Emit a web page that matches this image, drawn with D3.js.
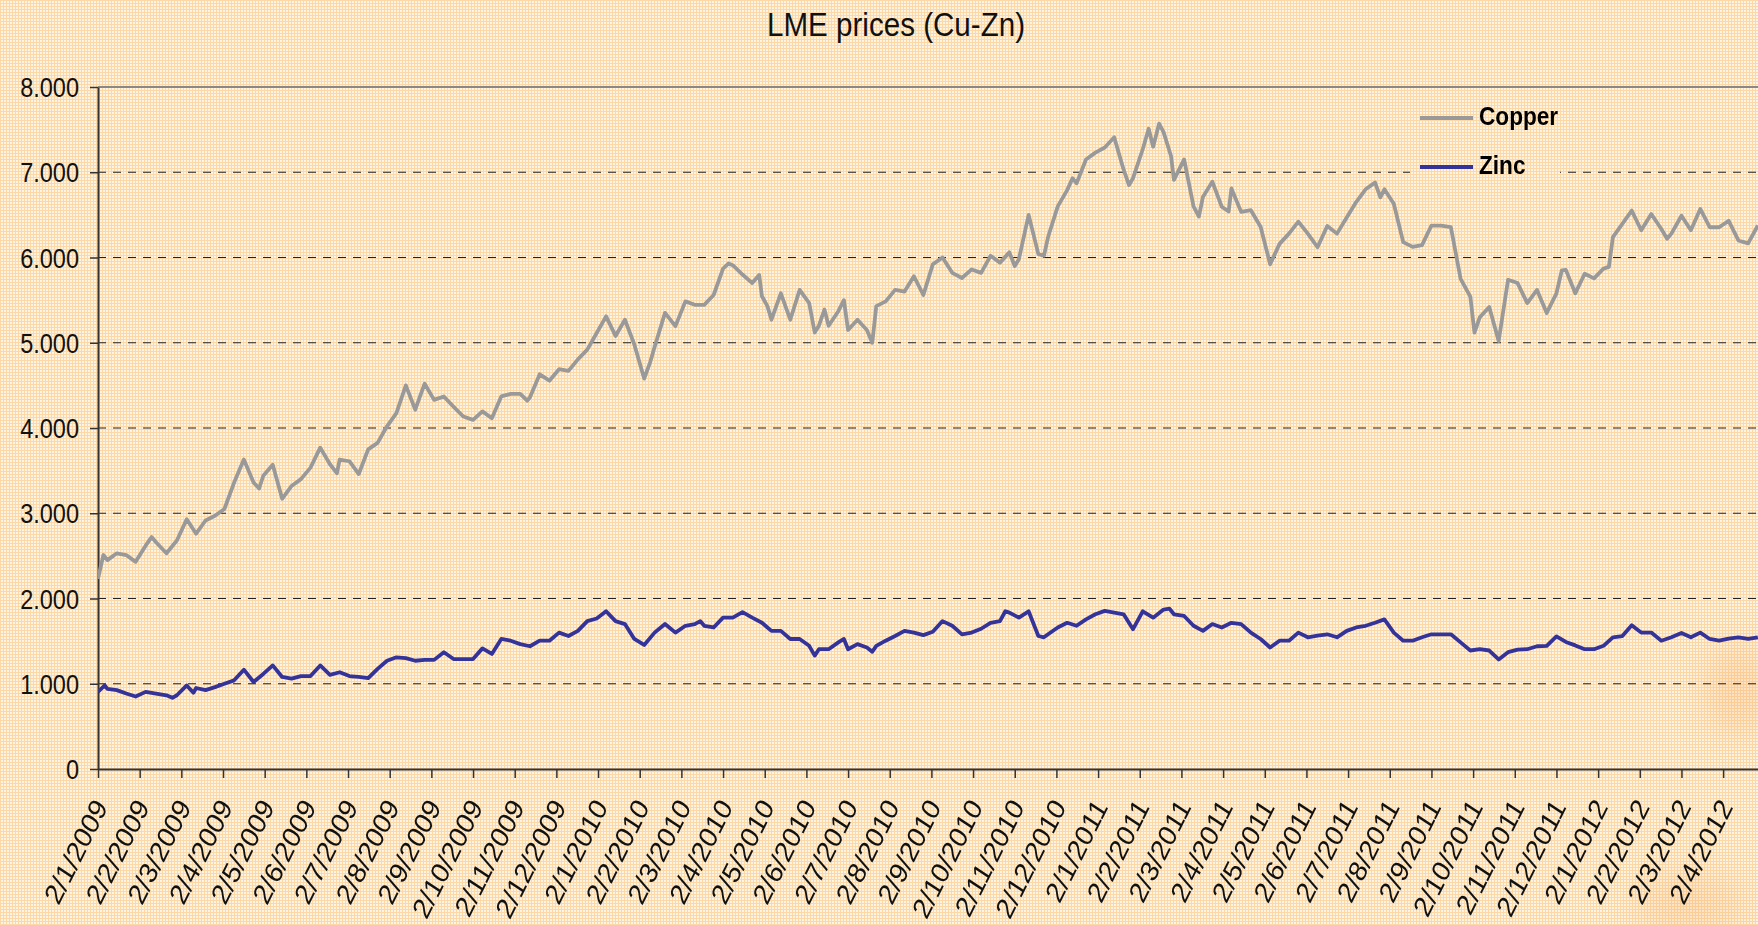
<!DOCTYPE html>
<html lang="en">
<head>
<meta charset="UTF-8">
<title>LME prices (Cu-Zn)</title>
<script src="https://cdn.jsdelivr.net/npm/d3@7"></script>
<style>
  html, body { margin: 0; padding: 0; background: #fde6c3; overflow: hidden; }
  svg { display: block; font-family: "Liberation Sans", Arial, sans-serif; }
</style>
</head>
<body>
<svg width="1758" height="925"></svg>
<script>
// weekly closing dates (Fridays)
const weeks = [
  "2009-01-02","2009-01-09","2009-01-16","2009-01-23","2009-01-30","2009-02-06","2009-02-13","2009-02-20","2009-02-27",
  "2009-03-06","2009-03-13","2009-03-20","2009-03-27","2009-04-03","2009-04-10","2009-04-17","2009-04-24",
  "2009-05-01","2009-05-08","2009-05-15","2009-05-22","2009-05-29","2009-06-05","2009-06-12","2009-06-19","2009-06-26",
  "2009-07-03","2009-07-10","2009-07-17","2009-07-24","2009-07-31","2009-08-07","2009-08-14","2009-08-21","2009-08-28",
  "2009-09-04","2009-09-11","2009-09-18","2009-09-25","2009-10-02","2009-10-09","2009-10-16","2009-10-23","2009-10-30",
  "2009-11-06","2009-11-13","2009-11-20","2009-11-27","2009-12-04","2009-12-11","2009-12-18","2009-12-25",
  "2010-01-01","2010-01-08","2010-01-15","2010-01-22","2010-01-29","2010-02-05","2010-02-12","2010-02-19","2010-02-26",
  "2010-03-05","2010-03-12","2010-03-19","2010-03-26","2010-04-02","2010-04-09","2010-04-16","2010-04-23","2010-04-30",
  "2010-05-07","2010-05-14","2010-05-21","2010-05-28","2010-06-04","2010-06-11","2010-06-18","2010-06-25",
  "2010-07-02","2010-07-09","2010-07-16","2010-07-23","2010-07-30","2010-08-06","2010-08-13","2010-08-20","2010-08-27",
  "2010-09-03","2010-09-10","2010-09-17","2010-09-24","2010-10-01","2010-10-08","2010-10-15","2010-10-22","2010-10-29",
  "2010-11-05","2010-11-12","2010-11-19","2010-11-26","2010-12-03","2010-12-10","2010-12-17","2010-12-24","2010-12-31",
  "2011-01-07","2011-01-14","2011-01-21","2011-01-28","2011-02-04","2011-02-11","2011-02-18","2011-02-25",
  "2011-03-04","2011-03-11","2011-03-18","2011-03-25","2011-04-01","2011-04-08","2011-04-15","2011-04-22","2011-04-29",
  "2011-05-06","2011-05-13","2011-05-20","2011-05-27","2011-06-03","2011-06-10","2011-06-17","2011-06-24",
  "2011-07-01","2011-07-08","2011-07-15","2011-07-22","2011-07-29","2011-08-05","2011-08-12","2011-08-19","2011-08-26",
  "2011-09-02","2011-09-09","2011-09-16","2011-09-23","2011-09-30","2011-10-07","2011-10-14","2011-10-21","2011-10-28",
  "2011-11-04","2011-11-11","2011-11-18","2011-11-25","2011-12-02","2011-12-09","2011-12-16","2011-12-23","2011-12-30",
  "2012-01-06","2012-01-13","2012-01-20","2012-01-27","2012-02-03","2012-02-10","2012-02-17","2012-02-24",
  "2012-03-02","2012-03-09","2012-03-16","2012-03-23","2012-03-30","2012-04-06","2012-04-13","2012-04-20","2012-04-27"
];

const copper = [
  2230,2450,2530,2510,2430,2620,2660,2530,2680,2930,2760,2915,2970,3050,3360,3630,3360,3440,3570,3170,
  3320,3400,3535,3770,3575,3630,3610,3460,3750,3825,4020,4175,4500,4215,4520,4330,4370,4250,4135,4095,
  4195,4115,4370,4400,4400,4360,4630,4555,4690,4670,4805,4920,5115,5310,5080,5270,4980,4580,4950,5350,
  5195,5485,5445,5445,5560,5870,5910,5800,5700,5545,5270,5580,5270,5620,5465,5200,5200,5370,5150,5270,
  5150,5430,5485,5620,5600,5780,5560,5920,6000,5820,5760,5860,5820,6020,5940,6060,5980,6500,6040,6240,
  6600,6790,6870,7150,7230,7290,7410,7030,6930,7270,7300,7470,6910,7150,6600,6710,6890,6595,6810,6535,
  6555,6360,5920,6160,6280,6420,6280,6120,6370,6280,6470,6650,6800,6880,6800,6630,6180,6125,6145,6375,
  6375,6355,5750,5540,5300,5420,5020,5740,5700,5465,5620,5350,5580,5855,5580,5810,5755,5870,6240,6395,
  6550,6320,6510,6335,6280,6490,6320,6570,6355,6355,6430,6200,6165,6375
];

const zinc = [
  905,940,925,885,850,905,885,865,865,980,950,925,960,1000,1040,1165,1020,1115,1215,1080,
  1060,1090,1090,1215,1105,1135,1090,1080,1065,1175,1270,1310,1300,1270,1280,1280,1370,1290,1290,1290,
  1415,1350,1525,1505,1465,1440,1505,1505,1600,1560,1620,1735,1765,1850,1735,1700,1525,1455,1600,1700,
  1600,1680,1700,1680,1660,1775,1775,1840,1775,1715,1620,1620,1525,1525,1445,1405,1405,1485,1405,1465,
  1425,1445,1505,1560,1620,1600,1570,1610,1735,1680,1580,1600,1645,1715,1735,1835,1775,1850,1560,1580,
  1660,1715,1680,1755,1815,1855,1835,1815,1640,1850,1775,1870,1815,1795,1680,1620,1700,1660,1715,1700,
  1600,1525,1425,1505,1505,1600,1545,1565,1580,1545,1620,1660,1680,1715,1755,1600,1505,1505,1545,1580,
  1580,1580,1485,1390,1405,1390,1285,1370,1400,1405,1440,1445,1555,1490,1450,1405,1405,1445,1545,1560,
  1685,1600,1600,1505,1545,1595,1545,1600,1525,1505,1530,1545,1525,1545
];

// mid-week highs and lows that the weekly closes miss
const copperExtraDates = [
  "2009-01-06","2009-02-10","2009-04-28","2009-06-24","2009-11-11","2010-02-09","2010-04-06","2010-04-28",
  "2010-05-04","2010-06-08","2010-06-15","2010-06-29","2010-07-20","2010-11-02","2010-11-23","2010-12-14",
  "2011-01-25","2011-02-08","2011-02-15","2011-02-23","2011-03-15","2011-04-06","2011-07-26","2011-10-03",
  "2011-12-06","2012-01-10","2012-02-21"
];
const copperExtra = [
  2510,2720,3290,3470,4320,4770,5930,5795,
  5430,5120,5390,5500,5000,5900,6020,6930,
  6850,7510,7570,7190,6480,6540,6705,5120,
  5850,5890,6220
];
const zincExtraDates = [
  "2009-01-07","2009-02-24","2009-03-11","2010-03-16","2010-06-08","2010-06-29","2010-07-20","2010-10-26",
  "2010-11-23","2011-02-22"
];
const zincExtra = [980,835,895,1735,1330,1525,1375,1850,1545,1880];

const seriesNames = ["Copper", "Zinc"];
const seriesColors = ["#999999", "#333399"];

// monthly axis ticks, plus the date where the axis runs on to
const tickDates = [
  "2009-01-02","2009-02-02","2009-03-02","2009-04-02","2009-05-02","2009-06-02","2009-07-02","2009-08-02",
  "2009-09-02","2009-10-02","2009-11-02","2009-12-02","2010-01-02","2010-02-02","2010-03-02","2010-04-02",
  "2010-05-02","2010-06-02","2010-07-02","2010-08-02","2010-09-02","2010-10-02","2010-11-02","2010-12-02",
  "2011-01-02","2011-02-02","2011-03-02","2011-04-02","2011-05-02","2011-06-02","2011-07-02","2011-08-02",
  "2011-09-02","2011-10-02","2011-11-02","2011-12-02","2012-01-02","2012-02-02","2012-03-02","2012-04-02"
];
const axisEnd = "2012-05-02";
const yTicks = [0, 1000, 2000, 3000, 4000, 5000, 6000, 7000, 8000];

const W = 1758, H = 925;
const plotLeft = 98, plotTop = 87, plotBottom = 769;
const monthStep = 41.67;
const squeeze = 0.87;   // text in the original is a bit narrow

const parse = d3.timeParse('%Y-%m-%d');
const axisDates = tickDates.concat([axisEnd]).map(parse);

// every month gets the same width, like the original
const x = d3.scaleTime()
  .domain(axisDates)
  .range(axisDates.map((d, i) => plotLeft + i * monthStep));
const y = d3.scaleLinear().domain([0, 8000]).range([plotBottom, plotTop]);

const fmt = d3.formatLocale({decimal: ',', thousands: '.', grouping: [3], currency: ['', '']}).format(',');
const dateFmt = d3.timeFormat('%-d/%-m/%Y');

const svg = d3.select('svg');
const defs = svg.append('defs');

// fine orange check background
const pat = defs.append('pattern')
  .attr('id', 'bg').attr('width', 3).attr('height', 3)
  .attr('patternUnits', 'userSpaceOnUse');
pat.append('rect').attr('width', 3).attr('height', 3).attr('fill', '#fff4e4');
pat.append('rect').attr('width', 3).attr('height', 1).attr('fill', '#fbd8a6');
pat.append('rect').attr('width', 1).attr('height', 3).attr('fill', '#fbd8a6');

const blur = defs.append('filter').attr('id', 'soft').attr('x', '-50%').attr('y', '-50%').attr('width', '200%').attr('height', '200%');
blur.append('feGaussianBlur').attr('stdDeviation', 18);

svg.append('rect').attr('width', W).attr('height', H).attr('fill', 'url(#bg)');

// faint orange smudges in the lower right corner
const smudge = svg.append('g').attr('filter', 'url(#soft)').attr('fill', '#f7a860');
smudge.append('ellipse').attr('cx', 1738).attr('cy', 690).attr('rx', 30).attr('ry', 45).attr('opacity', 0.3);
smudge.append('ellipse').attr('cx', 1690).attr('cy', 905).attr('rx', 55).attr('ry', 30).attr('opacity', 0.25);

// title
svg.append('text')
  .attr('transform', `translate(896,36) scale(${squeeze},1)`)
  .attr('text-anchor', 'middle')
  .attr('font-size', 34)
  .attr('fill', '#111')
  .text('LME prices (Cu-Zn)');

// dashed gridlines
svg.append('g')
  .selectAll('line')
  .data(yTicks.filter(v => v > 0 && v < 8000))
  .join('line')
  .attr('x1', plotLeft).attr('x2', W)
  .attr('y1', d => y(d)).attr('y2', d => y(d))
  .attr('stroke', '#222').attr('stroke-width', 1.2)
  .attr('stroke-dasharray', '8,7');

// top border of the plot
svg.append('line')
  .attr('x1', plotLeft).attr('x2', W)
  .attr('y1', y(8000)).attr('y2', y(8000))
  .attr('stroke', '#888').attr('stroke-width', 2.2);

// y axis
const yAxis = svg.append('g')
  .attr('transform', `translate(${plotLeft},0)`)
  .call(d3.axisLeft(y).tickValues(yTicks).tickSize(8).tickSizeOuter(0).tickFormat(fmt));
yAxis.select('.domain').attr('stroke', '#333').attr('stroke-width', 2);
yAxis.selectAll('.tick line').attr('stroke', '#333').attr('stroke-width', 1.5);
yAxis.selectAll('.tick text')
  .attr('x', 0).attr('dy', '0.36em')
  .attr('transform', `translate(-19,0) scale(${squeeze},1)`)
  .attr('font-family', '"Liberation Sans", Arial, sans-serif')
  .attr('font-size', 27).attr('fill', '#111');

// x axis
const xAxis = svg.append('g')
  .attr('transform', `translate(0,${plotBottom})`)
  .call(d3.axisBottom(x).tickValues(tickDates.map(parse)).tickSize(9).tickSizeOuter(0).tickFormat(dateFmt));
xAxis.select('.domain').attr('stroke', '#333').attr('stroke-width', 2);
xAxis.selectAll('.tick line').attr('stroke', '#333').attr('stroke-width', 1.5);
xAxis.selectAll('.tick text')
  .attr('x', 0).attr('y', 0).attr('dy', 0)
  .attr('text-anchor', 'end')
  .attr('transform', `translate(10,38) scale(${squeeze},1) rotate(-60)`)
  .attr('font-family', '"Liberation Sans", Arial, sans-serif')
  .attr('font-size', 29.5).attr('fill', '#111');

// series: weekly closes merged with the extra mid-week points
const toRows = (dates, values) => dates.map((d, i) => ({date: parse(d), value: values[i]}));
const series = [
  toRows(weeks, copper).concat(toRows(copperExtraDates, copperExtra)).sort((a, b) => a.date - b.date),
  toRows(weeks, zinc).concat(toRows(zincExtraDates, zincExtra)).sort((a, b) => a.date - b.date)
];

defs.append('clipPath').attr('id', 'plot')
  .append('rect').attr('x', plotLeft).attr('y', plotTop - 10).attr('width', W - plotLeft).attr('height', plotBottom - plotTop + 10);

const line = d3.line()
  .x(d => x(d.date))
  .y(d => y(d.value));

svg.append('g').attr('clip-path', 'url(#plot)')
  .selectAll('path')
  .data(series)
  .join('path')
  .attr('d', line)
  .attr('fill', 'none')
  .attr('stroke', (s, i) => seriesColors[i])
  .attr('stroke-width', 3.8)
  .attr('stroke-linejoin', 'round');

// legend
const legend = svg.append('g');
legend.append('rect')
  .attr('x', 1410).attr('y', 92).attr('width', 150).attr('height', 98)
  .attr('fill', 'url(#bg)');
const item = legend.selectAll('g.item')
  .data(seriesNames)
  .join('g')
  .attr('class', 'item')
  .attr('transform', (d, i) => `translate(1420,${118 + i * 49})`);
item.append('line')
  .attr('x1', 0).attr('x2', 53)
  .attr('stroke', (d, i) => seriesColors[i])
  .attr('stroke-width', 4);
item.append('text')
  .attr('transform', `translate(59,7) scale(${squeeze},1)`)
  .attr('font-size', 26).attr('font-weight', 'bold').attr('fill', '#000')
  .text(d => d);
</script>
</body>
</html>
